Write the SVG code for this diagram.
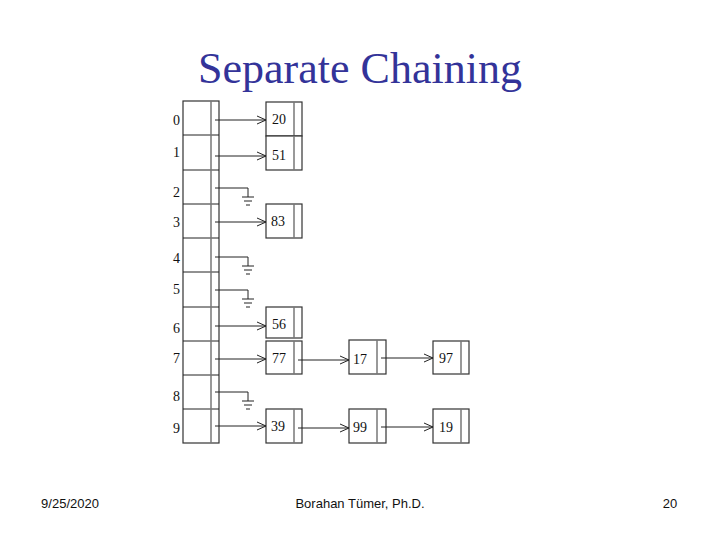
<svg xmlns="http://www.w3.org/2000/svg" width="720" height="540" viewBox="0 0 720 540">
<defs>
<style>
.b{fill:#fff;stroke:#333;stroke-width:1.2}
.d{stroke:#777;stroke-width:1.5}
.t{font-family:"Liberation Serif",serif;font-size:14px;fill:#111}
.l{stroke:#222;stroke-width:1;fill:none}
</style>
<marker id="a" markerWidth="10" markerHeight="10" refX="9" refY="5" orient="auto" markerUnits="userSpaceOnUse"><path d="M0,1 L9,5 L0,9" fill="none" stroke="#222" stroke-width="1"/></marker>
<g id="gnd"><path class="l" d="M0,0 H33 V9 M27,9 H39 M29,13 H37 M31,17 H35"/></g>
</defs>
<rect width="720" height="540" fill="#fff"/>
<text x="360" y="83" text-anchor="middle" font-family="Liberation Serif,serif" font-size="44" fill="#333399">Separate Chaining</text>
<g id="table">
<rect class="b" x="183" y="101" width="36" height="342"/>
<path class="l" d="M183,135 H219 M183,170 H219 M183,204 H219 M183,238 H219 M183,272 H219 M183,307 H219 M183,341 H219 M183,375 H219 M183,409 H219"/>
<line class="d" x1="211" y1="101" x2="211" y2="443"/>
<g class="t"><text x="173" y="125">0</text><text x="173" y="157">1</text><text x="173" y="197">2</text><text x="173" y="227">3</text><text x="173" y="263">4</text><text x="173" y="294">5</text><text x="173" y="333">6</text><text x="173" y="363">7</text><text x="173" y="401">8</text><text x="173" y="433">9</text></g>
</g>
<g id="n20"><rect class="b" x="266" y="102" width="36" height="34"/><line class="d" x1="294" y1="102" x2="294" y2="136"/><text class="t" x="272" y="124">20</text></g>
<g id="n51"><rect class="b" x="266" y="136" width="36" height="34"/><line class="d" x1="294" y1="136" x2="294" y2="170"/><text class="t" x="272" y="160">51</text></g>
<g id="n83"><rect class="b" x="266" y="204" width="36" height="34"/><line class="d" x1="294" y1="204" x2="294" y2="238"/><text class="t" x="271" y="226">83</text></g>
<g id="n56"><rect class="b" x="266" y="307" width="36" height="31"/><line class="d" x1="294" y1="307" x2="294" y2="338"/><text class="t" x="272" y="329">56</text></g>
<g id="n77"><rect class="b" x="266" y="341" width="36" height="33"/><line class="d" x1="294" y1="341" x2="294" y2="374"/><text class="t" x="272" y="363">77</text></g>
<g id="n17"><rect class="b" x="349" y="340" width="37" height="34"/><line class="d" x1="377" y1="340" x2="377" y2="374"/><text class="t" x="353" y="364">17</text></g>
<g id="n97"><rect class="b" x="433" y="341" width="36" height="33"/><line class="d" x1="461" y1="341" x2="461" y2="374"/><text class="t" x="439" y="363">97</text></g>
<g id="n39"><rect class="b" x="266" y="409" width="36" height="34"/><line class="d" x1="294" y1="409" x2="294" y2="443"/><text class="t" x="271" y="431">39</text></g>
<g id="n99"><rect class="b" x="349" y="409" width="37" height="34"/><line class="d" x1="377" y1="409" x2="377" y2="443"/><text class="t" x="353" y="432">99</text></g>
<g id="n19"><rect class="b" x="433" y="409" width="36" height="34"/><line class="d" x1="461" y1="409" x2="461" y2="443"/><text class="t" x="439" y="432">19</text></g>
<g id="connectors">
<line class="l" x1="215" y1="120" x2="266" y2="120" marker-end="url(#a)"/>
<line class="l" x1="215" y1="156" x2="266" y2="156" marker-end="url(#a)"/>
<line class="l" x1="215" y1="222" x2="266" y2="222" marker-end="url(#a)"/>
<line class="l" x1="215" y1="326" x2="266" y2="326" marker-end="url(#a)"/>
<line class="l" x1="215" y1="359" x2="266" y2="359" marker-end="url(#a)"/>
<line class="l" x1="298" y1="360" x2="349" y2="360" marker-end="url(#a)"/>
<line class="l" x1="381" y1="358" x2="433" y2="358" marker-end="url(#a)"/>
<line class="l" x1="215" y1="426" x2="266" y2="426" marker-end="url(#a)"/>
<line class="l" x1="298" y1="428" x2="349" y2="428" marker-end="url(#a)"/>
<line class="l" x1="381" y1="427" x2="433" y2="427" marker-end="url(#a)"/>
<use href="#gnd" x="215" y="188"/>
<use href="#gnd" x="215" y="257"/>
<use href="#gnd" x="215" y="290"/>
<use href="#gnd" x="215" y="392"/>
</g>
<text x="70" y="508" text-anchor="middle" font-family="Liberation Sans,sans-serif" font-size="13" fill="#111">9/25/2020</text>
<text x="360" y="508" text-anchor="middle" font-family="Liberation Sans,sans-serif" font-size="13" fill="#111">Borahan Tümer, Ph.D.</text>
<text x="670" y="508" text-anchor="middle" font-family="Liberation Sans,sans-serif" font-size="13" fill="#111">20</text>
</svg>
